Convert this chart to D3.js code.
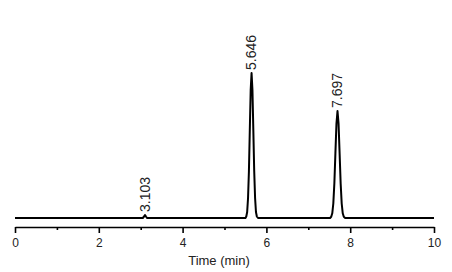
<!DOCTYPE html>
<html lang="en">
<head>
  <meta charset="UTF-8">
  <title>Chromatogram</title>
  <style>
    body { margin: 0; background: #fff; }
    svg { display: block; font-family: "Liberation Sans", Arial, sans-serif; }
    .trace { fill: none; stroke: #000; stroke-width: 2px; stroke-linejoin: round; }
    .axis path, .axis line { stroke: #000; stroke-width: 1.6px; }
    .axis text { font-size: 12px; fill: #222; }
    .peak-label { font-size: 14px; fill: #222; }
    .axis-title { font-size: 13px; fill: #222; }
  </style>
</head>
<body>
  <svg width="452" height="272"></svg>
  <script src="https://d3js.org/d3.v7.min.js"></script>
  <script>
    const width = 452, height = 272;

    // trace: retention time (min) and detector signal
    const traceTime = [
      0, 3.05, 3.08, 3.103, 3.125, 3.15,
      5.50, 5.520, 5.541, 5.562, 5.583, 5.604, 5.625, 5.646, 5.667, 5.688, 5.709, 5.730, 5.751, 5.772, 5.80,
      7.52, 7.547, 7.572, 7.597, 7.622, 7.647, 7.672, 7.697, 7.722, 7.747, 7.772, 7.797, 7.822, 7.847, 7.88,
      10
    ];
    const traceSignal = [
      0, 0, 1.5, 3, 1.5, 0,
      0, 1.5, 6, 20, 47, 88, 128, 145, 128, 88, 47, 20, 6, 1.5, 0,
      0, 1.2, 4.7, 14.5, 34.7, 64.9, 94.4, 107, 94.4, 64.9, 34.7, 14.5, 4.7, 1.2, 0,
      0
    ];

    // labelled peaks
    const peakTimes = [3.103, 5.646, 7.697];
    const peakHeights = [3, 145, 107];
    const peakLabels = ["3.103", "5.646", "7.697"];

    const tickValues = [0, 1, 2, 3, 4, 5, 6, 7, 8, 9, 10];

    const x = d3.scaleLinear().domain([0, 10]).range([15, 434]);
    const y = d3.scaleLinear().domain([0, 145]).range([218, 73]);

    const svg = d3.select("svg")
      .attr("width", width)
      .attr("height", height);

    svg.append("rect")
      .attr("width", width)
      .attr("height", height)
      .attr("fill", "#fff");

    const points = traceTime.map((t, i) => [t, traceSignal[i]]);

    svg.append("path")
      .datum(points)
      .attr("class", "trace")
      .attr("d", d3.line().x(d => x(d[0])).y(d => y(d[1])));

    // x axis: labels on even minutes, short ticks on odd ones
    const axis = svg.append("g")
      .attr("class", "axis")
      .attr("transform", "translate(0,227)")
      .call(d3.axisBottom(x)
        .tickValues(tickValues)
        .tickSizeOuter(0)
        .tickFormat(d => d % 2 === 0 ? d : ""));

    axis.selectAll(".tick line")
      .attr("y2", d => d % 2 === 0 ? 6 : 3);
    axis.selectAll(".tick text")
      .attr("y", 11)
      .attr("dy", "0.71em");
    axis.attr("font-family", null).attr("font-size", null);

    svg.append("text")
      .attr("class", "axis-title")
      .attr("x", 219)
      .attr("y", 265)
      .attr("text-anchor", "middle")
      .text("Time (min)");

    svg.append("g")
      .selectAll("text")
      .data(peakTimes)
      .join("text")
      .attr("class", "peak-label")
      .attr("transform", (d, i) => `translate(${x(d)},${y(peakHeights[i]) - 3}) rotate(-90)`)
      .attr("dy", "0.35em")
      .text((d, i) => peakLabels[i]);
  </script>
</body>
</html>
